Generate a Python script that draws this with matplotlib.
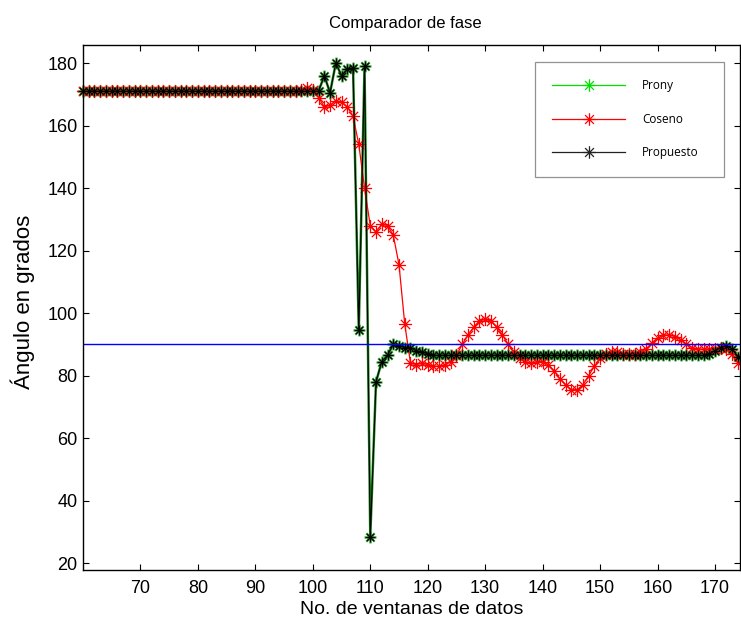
import matplotlib
matplotlib.use("Agg")
import matplotlib.pyplot as plt
from matplotlib.path import Path
from matplotlib.lines import Line2D

# ---------------- data ----------------
x = list(range(60, 175))

prony = [
    171, 171, 171, 171, 171, 171, 171, 171, 171, 171,   # 60-69
    171, 171, 171, 171, 171, 171, 171, 171, 171, 171,   # 70-79
    171, 171, 171, 171, 171, 171, 171, 171, 171, 171,   # 80-89
    171, 171, 171, 171, 171, 171, 171, 171, 171, 171,   # 90-99
    171, 171, 176, 170.5, 180, 176, 178, 178.5, 94.5, 179,  # 100-109
    28.5, 78, 84.5, 86.5, 90, 89.5, 89, 89, 88, 87.5,   # 110-119
    87, 86.5, 86.5, 86.5, 86.5, 86.5, 86.5, 86.5, 86.5, 86.5,  # 120-129
    86.5, 86.5, 86.5, 86.5, 86.5, 86.5, 86.5, 86.5, 86.5, 86.5,  # 130-139
    86.5, 86.5, 86.5, 86.5, 86.5, 86.5, 86.5, 86.5, 86.5, 86.5,  # 140-149
    86.5, 86.5, 86.5, 86.5, 86.5, 86.5, 86.5, 86.5, 86.5, 86.5,  # 150-159
    86.5, 86.5, 86.5, 86.5, 86.5, 86.5, 86.5, 86.5, 86.5, 87,    # 160-169
    88, 89, 89.5, 88.5, 86,                                      # 170-174
]

coseno = [
    171, 171, 171, 171, 171, 171, 171, 171, 171, 171,   # 60-69
    171, 171, 171, 171, 171, 171, 171, 171, 171, 171,   # 70-79
    171, 171, 171, 171, 171, 171, 171, 171, 171, 171,   # 80-89
    171, 171, 171, 171, 171, 171, 171, 171, 171.5, 172, # 90-99
    171.5, 169, 166, 166.5, 168, 167.5, 166, 163, 154, 140,  # 100-109
    128, 126, 128.5, 128, 125, 115.5, 96.5, 84, 83.5, 84,    # 110-119
    83.5, 83, 83, 83.5, 84.5, 86.5, 90, 93, 95.5, 97.5,      # 120-129
    98, 97.5, 95.5, 93, 90, 87.5, 85.5, 84.5, 84, 84.5,      # 130-139
    84.5, 83.5, 81.5, 79, 77, 75.5, 75.5, 77, 80, 83,        # 140-149
    85.5, 87, 87.5, 87.5, 87, 87, 87, 87.5, 88.5, 90.5,      # 150-159
    92, 93, 93, 92.5, 91.5, 90, 89, 88.5, 88.5, 88.5,        # 160-169
    88.5, 89, 88.5, 87, 84,                                  # 170-174
]

propuesto = [
    171, 171, 171, 171, 171, 171, 171, 171, 171, 171,   # 60-69
    171, 171, 171, 171, 171, 171, 171, 171, 171, 171,   # 70-79
    171, 171, 171, 171, 171, 171, 171, 171, 171, 171,   # 80-89
    171, 171, 171, 171, 171, 171, 171, 171, 171, 171,   # 90-99
    171, 171, 176, 170.5, 180, 176, 178, 178.5, 94.5, 179,  # 100-109
    28.5, 78, 84.5, 86.5, 90, 89.5, 89, 89, 88, 87.5,   # 110-119
    87, 86.5, 86.5, 86.5, 86.5, 86.5, 86.5, 86.5, 86.5, 86.5,  # 120-129
    86.5, 86.5, 86.5, 86.5, 86.5, 86.5, 86.5, 86.5, 86.5, 86.5,  # 130-139
    86.5, 86.5, 86.5, 86.5, 86.5, 86.5, 86.5, 86.5, 86.5, 86.5,  # 140-149
    86.5, 86.5, 86.5, 86.5, 86.5, 86.5, 86.5, 86.5, 86.5, 86.5,  # 150-159
    86.5, 86.5, 86.5, 86.5, 86.5, 86.5, 86.5, 86.5, 86.5, 87,    # 160-169
    88, 89, 89.5, 88.5, 86,                                      # 170-174
]

referencia = 90

series_names = ["Prony", "Coseno", "Propuesto"]
xticks = [70, 80, 90, 100, 110, 120, 130, 140, 150, 160, 170]
yticks = [20, 40, 60, 80, 100, 120, 140, 160, 180]

# ---------------- figure ----------------
plt.rcParams['font.family'] = ['Liberation Sans', 'DejaVu Sans']

W, H = 741, 622
fig = plt.figure(figsize=(W / 100, H / 100), dpi=100)
ax = fig.add_axes([83 / W, 1 - 570 / H, (740 - 83) / W, (570 - 45) / H])

# MATLAB-style asterisk marker
verts = [(-1, 0), (1, 0), (0, -1), (0, 1),
         (-0.7071, -0.7071), (0.7071, 0.7071),
         (-0.7071, 0.7071), (0.7071, -0.7071)]
codes = [Path.MOVETO, Path.LINETO] * 4
asterisk = Path(verts, codes)

RED = '#ff0000'
BLACK = '#000000'

ax.plot(x, prony, color='#1f8a1f', lw=1.8, marker=asterisk, ms=8.5,
        mec='#1f8a1f', mew=1.6, mfc='none', zorder=3, clip_on=False)
ax.plot(x, coseno, color=RED, lw=0.9, marker=asterisk, ms=9.5,
        mec=RED, mew=0.9, mfc='none', zorder=4, clip_on=False)
ax.plot(x, propuesto, color=BLACK, lw=0.8, marker=asterisk, ms=7,
        mec=BLACK, mew=0.8, mfc='none', zorder=5, clip_on=False)
ax.axhline(referencia, color='#0000ff', lw=1.0, zorder=6)

ax.set_xlim(60, 174.35)
ax.set_ylim(17.8, 185.8)
ax.set_xticks(xticks)
ax.set_yticks(yticks)
ax.tick_params(direction='in', top=True, right=True, length=4, width=0.8,
               labelsize=13)
ax.tick_params(axis='x', pad=7)
ax.tick_params(axis='y', pad=4)
for s in ax.spines.values():
    s.set_linewidth(1.0)
    s.set_color('black')
    s.set_zorder(7)

ax.set_title("Comparador de fase", fontsize=12, pad=12, x=0.49)
ax.set_xlabel("No. de ventanas de datos", fontsize=14, labelpad=3)
ax.set_ylabel("Ángulo en grados", fontsize=16, labelpad=9)
ax.yaxis.label.set_y(0.51)

# legend with thin proxy handles (as in the original)
handles = [
    Line2D([], [], color='#00e000', lw=0.9, marker=asterisk, ms=9, mew=0.9, mfc='none'),
    Line2D([], [], color=RED, lw=0.9, marker=asterisk, ms=9, mew=0.9, mfc='none'),
    Line2D([], [], color='#222222', lw=0.9, marker=asterisk, ms=9, mew=0.9, mfc='none'),
]
leg = ax.legend(handles, series_names, loc='upper left',
                bbox_to_anchor=(535 / W, 1 - 175 / H, (724 - 535) / W, (175 - 62) / H),
                bbox_transform=fig.transFigure, mode='expand',
                borderaxespad=0, fancybox=False, frameon=True,
                prop={'family': ['Open Sans', 'DejaVu Sans'], 'size': 8.5},
                handlelength=6.2, handletextpad=1.4, labelspacing=1.75,
                borderpad=1.45)
leg.get_frame().set_edgecolor('#777777')
leg.get_frame().set_linewidth(0.9)
leg.set_zorder(10)

fig.savefig("out.png", dpi=100)
